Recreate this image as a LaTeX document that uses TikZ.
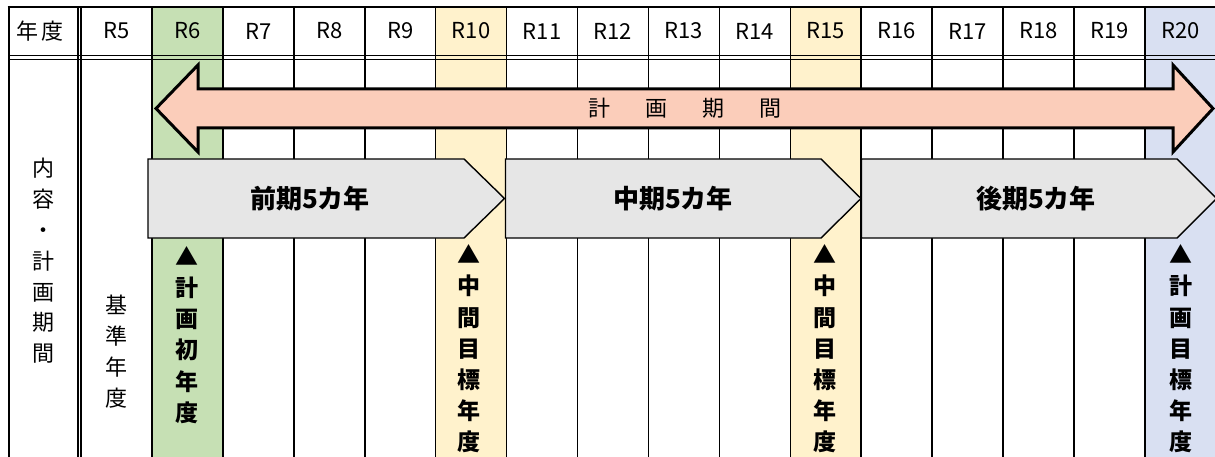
\documentclass[tikz,border=0pt]{standalone}
\usepackage{fontspec}
\setmainfont{Noto Sans CJK JP}
\definecolor{cgreen}{HTML}{C6E0B4}
\definecolor{cyellow}{HTML}{FFF2CC}
\definecolor{cblue}{HTML}{D9E0F2}
\definecolor{csalmon}{HTML}{FBCDBA}
\definecolor{cgray}{HTML}{E6E6E6}
\begin{document}
\begin{tikzpicture}[x=1pt,y=-1pt,
  gridline/.style={line width=1.6pt},
  borderline/.style={line width=2pt},
  bigarrow/.style={draw, line width=3pt, fill=csalmon, line join=miter},
  phase/.style={draw, line width=1.4pt, fill=cgray, line join=miter},
  hdr/.style={inner sep=0pt, font=\fontsize{22}{26}\selectfont},
  phaselabel/.style={inner sep=0pt, font=\bfseries\fontsize{26}{30}\selectfont},
  vstack/.style={inner sep=0pt, align=center, font=\fontsize{22}{30.8}\selectfont},
  vstackb/.style={inner sep=0pt, align=center, font=\bfseries\fontsize{23}{31.2}\selectfont},
]
\useasboundingbox (0,0) rectangle (1215,457);
% column fills
\fill[cgreen] (151.93,7) rectangle (222.86,457);
\fill[cyellow] (435.65,7) rectangle (506.58,457);
\fill[cyellow] (790.30,7) rectangle (861.23,457);
\fill[cblue] (1144.95,7) rectangle (1216,457);
% grid
\foreach \i in {0,...,15} {
  \draw[gridline] ({81+\i*70.93},7) -- ({81+\i*70.93},457);
}
\draw[borderline] (8.5,6) -- (8.5,457);
\draw[gridline] (78,7) -- (78,457);
\draw[borderline] (7.5,7) -- (1215,7);
\draw[gridline] (8.5,55.5) -- (1215,55.5);
\draw[gridline] (8.5,59.5) -- (1215,59.5);
% header labels
\node[hdr] (h0) at (40,31) {年\hspace{3pt}度};
\foreach \i in {5,...,20} {
  \node[hdr] (h\i) at ({81+(\i-5)*70.93+35.46},31) {R\i};
}
% big double arrow
\draw[bigarrow] (156,108.5) -- (198,65) -- (198,89) -- (1173,89) -- (1173,65)
  -- (1213,108.5) -- (1173,152) -- (1173,128) -- (198,128) -- (198,152) -- cycle;
\node[inner sep=0pt, font=\fontsize{22}{26}\selectfont] (plan) at (685,108.5)
  {計\hspace{35pt}画\hspace{35pt}期\hspace{35pt}間};
% phase chevrons
\draw[phase] (148,159) -- (464,159) -- (504.5,198.5) -- (464,238) -- (148,238) -- cycle;
\draw[phase] (505.5,159) -- (821,159) -- (861,198.5) -- (821,238) -- (505.5,238) -- cycle;
\draw[phase] (861.5,159) -- (1177,159) -- (1216.5,198.5) -- (1177,238) -- (861.5,238) -- cycle;
\node[phaselabel] (p1) at (310,198.5) {前期5カ年};
\node[phaselabel] (p2) at (673,198.5) {中期5カ年};
\node[phaselabel] (p3) at (1036,198.5) {後期5カ年};
% vertical texts
\node[vstack] (c0) at (43,261) {内\\容\\・\\計\\画\\期\\間};
\node[vstack] (c5) at (116,351.5) {基\\準\\年\\度};
\node[vstackb] (c6) at (187,335) {▲\\計\\画\\初\\年\\度};
\node[vstackb] (c10) at (469,349) {▲\\中\\間\\目\\標\\年\\度};
\node[vstackb] (c15) at (825,349) {▲\\中\\間\\目\\標\\年\\度};
\node[vstackb] (c20) at (1181,349) {▲\\計\\画\\目\\標\\年\\度};
\end{tikzpicture}
\end{document}
